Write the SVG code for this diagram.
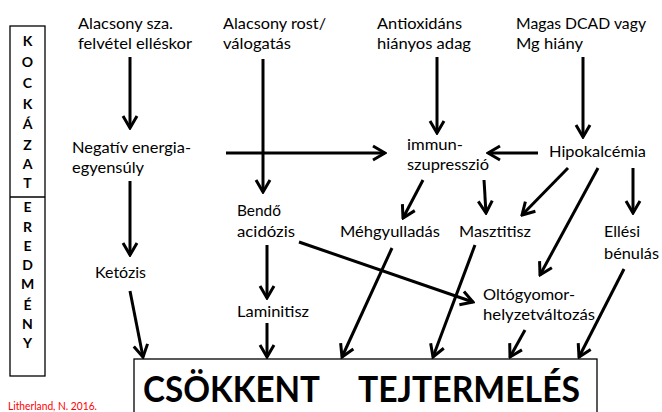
<svg xmlns="http://www.w3.org/2000/svg" width="662" height="412" viewBox="0 0 662 412">
<style>
.t{font-family:Lato,"Open Sans",sans-serif;font-size:16px;fill:#000}
.v{font-family:Lato,"Open Sans",sans-serif;font-size:14px;font-weight:bold;fill:#000;text-anchor:middle}
.big{font-family:Lato,"Open Sans",sans-serif;font-size:36px;font-weight:bold;fill:#000}
.cite{font-family:Lato,"Open Sans",sans-serif;font-size:11px;fill:#ff0000}
.box{fill:none;stroke:#000;stroke-width:1.3}
.c line{stroke:#000;stroke-width:3;marker-end:url(#ah)}
</style>
<defs>
<marker id="ah" markerUnits="userSpaceOnUse" viewBox="-16 -10 18 20" refX="0" refY="0" markerWidth="18" markerHeight="20" orient="auto">
<path d="M-12,-7 L0,0 L-12,7" fill="none" stroke="#000" stroke-width="3"/>
</marker>
</defs>
<rect width="662" height="412" fill="#fff"/>

<g id="side-box">
<rect class="box" x="10" y="26" width="35" height="350"/>
<line class="box" x1="10" y1="197" x2="45" y2="197"/>
<text class="v" x="27.5" y="46">K</text>
<text class="v" x="27.5" y="67">O</text>
<text class="v" x="27.5" y="88">C</text>
<text class="v" x="27.5" y="109">K</text>
<text class="v" x="27.5" y="129">Á</text>
<text class="v" x="27.5" y="150">Z</text>
<text class="v" x="27.5" y="169">A</text>
<text class="v" x="27.5" y="188">T</text>
<text class="v" x="27.5" y="212">E</text>
<text class="v" x="27.5" y="232">R</text>
<text class="v" x="27.5" y="251">E</text>
<text class="v" x="27.5" y="270">D</text>
<text class="v" x="27.5" y="289">M</text>
<text class="v" x="27.5" y="310">É</text>
<text class="v" x="27.5" y="329">N</text>
<text class="v" x="27.5" y="348">Y</text>
</g>

<g id="n-alacsony-sza">
<text class="t" x="78" y="29" textLength="95" lengthAdjust="spacingAndGlyphs">Alacsony sza.</text>
<text class="t" x="78" y="49" textLength="114" lengthAdjust="spacingAndGlyphs">felvétel elléskor</text>
</g>
<g id="n-alacsony-rost">
<text class="t" x="223" y="29" textLength="103" lengthAdjust="spacingAndGlyphs">Alacsony rost/</text>
<text class="t" x="223" y="49" textLength="68" lengthAdjust="spacingAndGlyphs">válogatás</text>
</g>
<g id="n-antioxidans">
<text class="t" x="377" y="29" textLength="85" lengthAdjust="spacingAndGlyphs">Antioxidáns</text>
<text class="t" x="377" y="49" textLength="94" lengthAdjust="spacingAndGlyphs">hiányos adag</text>
</g>
<g id="n-magas-dcad">
<text class="t" x="516" y="29" textLength="130" lengthAdjust="spacingAndGlyphs">Magas DCAD vagy</text>
<text class="t" x="516" y="49" textLength="67" lengthAdjust="spacingAndGlyphs">Mg hiány</text>
</g>
<g id="n-negativ">
<text class="t" x="72" y="153" textLength="119" lengthAdjust="spacingAndGlyphs">Negatív energia-</text>
<text class="t" x="72" y="173" textLength="72" lengthAdjust="spacingAndGlyphs">egyensúly</text>
</g>
<g id="n-immun">
<text class="t" x="407" y="150" textLength="56" lengthAdjust="spacingAndGlyphs">immun-</text>
<text class="t" x="407" y="170" textLength="82" lengthAdjust="spacingAndGlyphs">szupresszió</text>
</g>
<g id="n-hipokalcemia">
<text class="t" x="549" y="157" textLength="97" lengthAdjust="spacingAndGlyphs">Hipokalcémia</text>
</g>
<g id="n-bendo">
<text class="t" x="237" y="216" textLength="44" lengthAdjust="spacingAndGlyphs">Bendő</text>
<text class="t" x="237" y="237" textLength="58" lengthAdjust="spacingAndGlyphs">acidózis</text>
</g>
<g id="n-mehgyulladas">
<text class="t" x="340" y="237" textLength="100" lengthAdjust="spacingAndGlyphs">Méhgyulladás</text>
</g>
<g id="n-masztitisz">
<text class="t" x="459" y="237" textLength="72" lengthAdjust="spacingAndGlyphs">Masztitisz</text>
</g>
<g id="n-ellesi">
<text class="t" x="604" y="237" textLength="36" lengthAdjust="spacingAndGlyphs">Ellési</text>
<text class="t" x="604" y="259" textLength="55" lengthAdjust="spacingAndGlyphs">bénulás</text>
</g>
<g id="n-oltogyomor">
<text class="t" x="483" y="300" textLength="92" lengthAdjust="spacingAndGlyphs">Oltógyomor-</text>
<text class="t" x="483" y="320" textLength="112" lengthAdjust="spacingAndGlyphs">helyzetváltozás</text>
</g>
<g id="n-laminitisz">
<text class="t" x="237" y="317" textLength="72" lengthAdjust="spacingAndGlyphs">Laminitisz</text>
</g>
<g id="n-ketozis">
<text class="t" x="95" y="278" textLength="51" lengthAdjust="spacingAndGlyphs">Ketózis</text>
</g>
<g id="n-csokkent">
<rect class="box" x="134" y="359" width="463" height="70"/>
<text class="big" x="143" y="402" textLength="177" lengthAdjust="spacingAndGlyphs">CSÖKKENT</text>
<text class="big" x="358" y="402" textLength="222" lengthAdjust="spacingAndGlyphs">TEJTERMELÉS</text>
</g>

<g id="connectors" class="c">
<line x1="130" y1="57" x2="130" y2="128"/>
<line x1="226" y1="153" x2="385" y2="153"/>
<line x1="263" y1="59" x2="263" y2="192"/>
<line x1="437" y1="57" x2="437" y2="133"/>
<line x1="583" y1="57" x2="583" y2="137"/>
<line x1="538" y1="153" x2="488" y2="153"/>
<line x1="130" y1="181" x2="130" y2="255"/>
<line x1="423" y1="180" x2="403" y2="218"/>
<line x1="484" y1="180" x2="486" y2="213"/>
<line x1="568" y1="168" x2="522" y2="215"/>
<line x1="598" y1="168" x2="540" y2="275"/>
<line x1="633" y1="168" x2="633" y2="213"/>
<line x1="299" y1="242" x2="473" y2="302"/>
<line x1="267" y1="245" x2="267" y2="298"/>
<line x1="130" y1="291" x2="143" y2="357"/>
<line x1="267" y1="323" x2="267" y2="357"/>
<line x1="392" y1="248" x2="342" y2="357"/>
<line x1="475" y1="245" x2="433" y2="357"/>
<line x1="525" y1="330" x2="510" y2="357"/>
<line x1="624" y1="269" x2="579" y2="357"/>
</g>

<text class="cite" x="8" y="410" textLength="89" lengthAdjust="spacingAndGlyphs">Litherland, N. 2016.</text>
</svg>
